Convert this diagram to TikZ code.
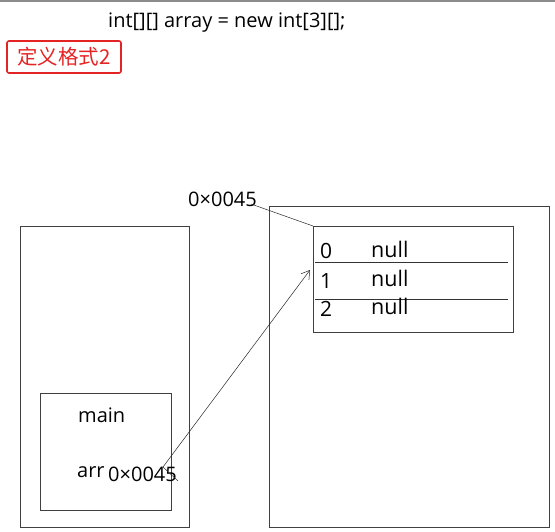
\documentclass[tikz,border=0pt]{standalone}
\usepackage{fontspec}
\setmainfont{Open Sans}
\newfontfamily\cjk{Noto Sans CJK SC}
\usetikzlibrary{positioning,arrows.meta}
\definecolor{tagred}{RGB}{228,36,36}

\begin{document}
\begin{tikzpicture}[x=1pt,y=-1pt]
\tikzset{
    frame/.style={rectangle, draw=black!75, line width=0.8pt, anchor=north west, inner sep=0pt},
    txt/.style={inner sep=0pt, anchor=west, font=\fontsize{20}{24}\selectfont},
    tag/.style={rectangle, draw=tagred, line width=1.6pt, rounded corners=2pt, text=tagred, font=\cjk\fontsize{20.5}{24}\selectfont, minimum width=114pt, minimum height=32pt, inner sep=0pt},
    ptr/.style={black!85, line width=0.5pt}
}
\useasboundingbox (0,0) rectangle (555,531);
\draw[black!45, line width=2pt] (0,1) -- (555,1);

% code line and tag
\node[txt] (title) at (108,23) {int[][] array = new int[3][];};
\node[tag] (format) at (64,57) {定义格式2};

% stack
\node[frame, minimum width=169pt, minimum height=301pt] (stack) at (20,226) {};
\node[frame, minimum width=131pt, minimum height=117pt] (mainframe) at (40,393) {};
\node[txt] (mainname) at (78,415) {main};
\node[txt] (arrname) at (77,472) {arr};
\node[txt] (arrvalue) at (108,474) {0×0045};

% heap
\node[frame, minimum width=280pt, minimum height=321pt] (heap) at (269,206) {};
\node[frame, minimum width=200pt, minimum height=106pt] (arraybox) at (313,226) {};
\node[txt] (heapaddr) at (188,199) {0×0045};
\draw[black!80, line width=0.6pt] (315,262) -- (508,262);
\draw[black!80, line width=0.6pt] (315,299) -- (508,299);
\node[txt, font=\fontsize{21}{24}\selectfont] (idx0) at (320,251) {0};
\node[txt, font=\fontsize{21}{24}\selectfont] (idx1) at (320,281) {1};
\node[txt, font=\fontsize{21}{24}\selectfont] (idx2) at (320,309) {2};
\node[txt, font=\fontsize{21.5}{24}\selectfont] (val0) at (371,249) {null};
\node[txt, font=\fontsize{21.5}{24}\selectfont] (val1) at (371,278) {null};
\node[txt, font=\fontsize{21.5}{24}\selectfont] (val2) at (371,306) {null};

% pointers
\coordinate (arrtail) at (178,481);
\coordinate (arrbend) at (163,467);
\coordinate (row1) at (310,270);
\draw[ptr] (heapaddr.east) ++(-6,5) -- (arraybox.north west);
\draw[ptr, -{Straight Barb[length=8pt, width=10pt]}] (arrtail) -- (arrbend) -- (row1);
\end{tikzpicture}
\end{document}
